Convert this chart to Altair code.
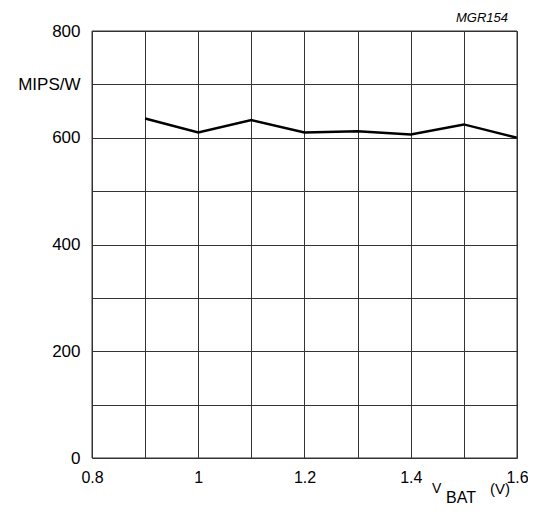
import altair as alt
import pandas as pd

vbat = [0.9, 1.0, 1.1, 1.2, 1.3, 1.4, 1.5, 1.6]
mips_w = [636, 610, 633, 610, 612, 606, 625, 600]

x_grid = [0.8, 0.9, 1.0, 1.1, 1.2, 1.3, 1.4, 1.5, 1.6]
y_grid = [0, 100, 200, 300, 400, 500, 600, 700, 800]

df = pd.DataFrame({"v": vbat, "m": mips_w})

W, H = 425, 427
L, T = 84, 23
OX, OY = L + 8, T + 8
FONT = "Liberation Sans"
FS = 17

xs = alt.Scale(domain=[0.8, 1.6], nice=False, zero=False)
ys = alt.Scale(domain=[0, 800], nice=False)

base = alt.Chart(df)

line = base.mark_line(color="black", strokeWidth=2.5).encode(
    x=alt.X("v:Q", scale=xs, title=None,
            axis=alt.Axis(values=x_grid, grid=True, gridColor="#333", gridOpacity=1, gridWidth=1,
                          labelExpr="round(datum.value * 10) % 2 == 0 ? format(datum.value, '~g') : ''",
                          ticks=False, domain=False, labelFont=FONT, labelFontSize=16,
                          labelColor="black", labelPadding=11, labelFlush=False,
                          labelOverlap=False)),
    y=alt.Y("m:Q", scale=ys, title=None,
            axis=alt.Axis(values=y_grid, grid=True, gridColor="#333", gridOpacity=1, gridWidth=1,
                          labelExpr="datum.value == 700 ? 'MIPS/W' : (datum.value % 200 == 0 ? datum.label : '')",
                          ticks=False, domain=False, labelFont=FONT, labelFontSize=FS,
                          labelColor="black", labelPadding=12, labelOverlap=False)),
)

frame = alt.Chart(pd.DataFrame({"a": [0]})).mark_rect(fill=None, stroke="#333", strokeWidth=1).encode(
    x=alt.value(0), x2=alt.value(W), y=alt.value(0), y2=alt.value(H)
)

def txt(s, x, y, size, align="left", style="normal"):
    return alt.Chart(pd.DataFrame({"t": [s]})).mark_text(
        font=FONT, fontSize=size, align=align, baseline="alphabetic", fontStyle=style, color="black"
    ).encode(text="t:N", x=alt.value(x - OX), y=alt.value(y - OY))

annots = [
    txt("MGR154", 508, 22, 13, align="right", style="italic"),
    txt("V", 432, 493, 14),
    txt("BAT", 446, 503, 16),
    txt("(V)", 490, 494, 15),
]

chart = alt.layer(line, frame, *annots).properties(
    width=W, height=H,
    autosize=alt.AutoSizeParams(type="none"),
    padding={"left": L, "top": T, "right": 11, "bottom": 49},
).configure_view(stroke=None)

chart.save("out.html", embed_options={"renderer": "svg", "actions": False})
